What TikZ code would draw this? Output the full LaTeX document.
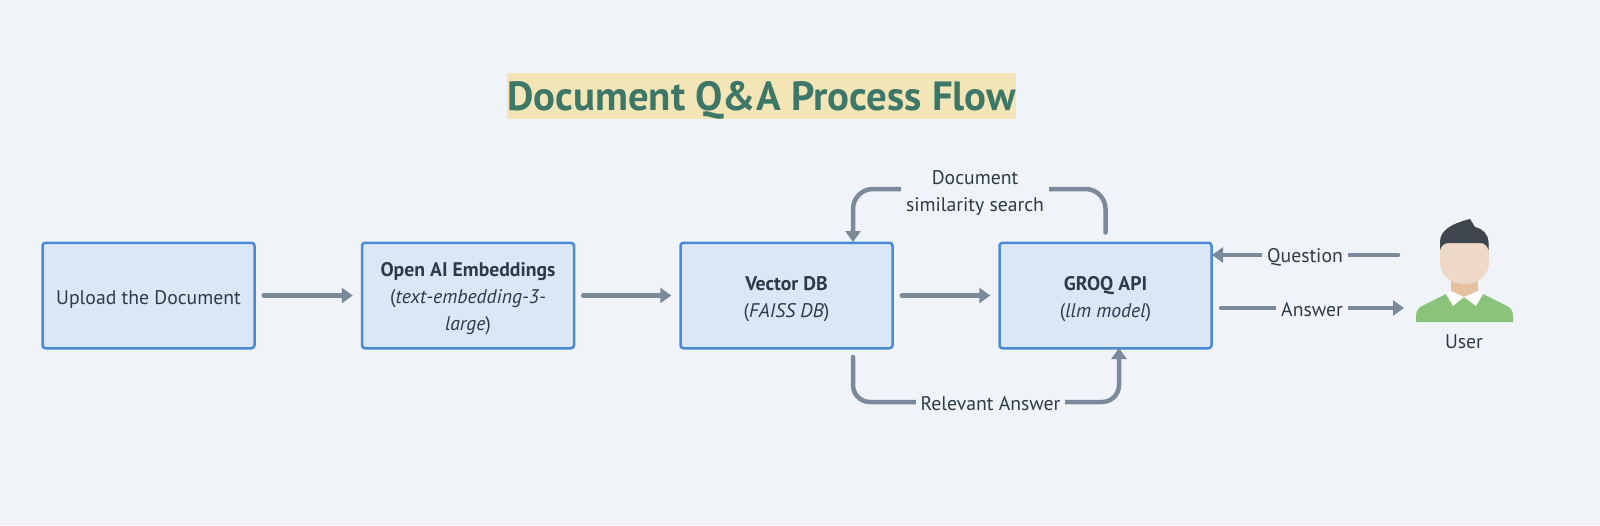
\documentclass[tikz,border=0pt]{standalone}
\usepackage{fontspec}
\setmainfont{PT Sans}
\usetikzlibrary{arrows.meta}
\definecolor{pagebg}{HTML}{F0F4F8}
\definecolor{boxfill}{HTML}{DAE7F6}
\definecolor{boxline}{HTML}{4A8AD4}
\definecolor{inktext}{HTML}{2D3A48}
\definecolor{flowgray}{HTML}{7B8A9A}
\definecolor{titlefill}{HTML}{F3E5B5}
\definecolor{titletext}{HTML}{3D7767}
\definecolor{shirtgreen}{RGB}{138,196,122}
\definecolor{neckskin}{RGB}{228,194,160}
\definecolor{faceskin}{RGB}{238,217,198}
\definecolor{hairdark}{RGB}{62,69,78}
\newcommand{\lowered}{\rule{0pt}{21pt}}
\tikzset{
  stagebox/.style={draw=boxline,fill=boxfill,line width=2.5pt,rounded corners=3pt,
    minimum width=212pt,minimum height=105.5pt,align=center,text=inktext,font=\fontsize{19.7}{27}\selectfont,inner sep=0pt},
  flowline/.style={draw=flowgray,line width=4.5pt,line cap=round,-{Triangle[length=11pt,width=15pt]}},
  flowlabel/.style={fill=pagebg,text=inktext,align=center,font=\fontsize{19.7}{27}\selectfont,inner ysep=0pt,inner xsep=5pt}
}
\begin{document}
\begin{tikzpicture}[x=1pt,y=-1pt]
  \useasboundingbox[fill=pagebg] (0,0) rectangle (1600,525);
  \node[fill=titlefill,text=titletext,font=\fontsize{40.8}{48}\selectfont\bfseries,minimum width=509pt,minimum height=45pt,inner sep=0pt,execute at begin node={\rule{0pt}{38pt}}] (title) at (761.5,96) {Document Q\&A Process Flow};
  \node[stagebox] (upload) at (148.5,295.5) {\lowered Upload the Document};
  \node[stagebox] (embed) at (468,295.5) {\lowered\textbf{Open AI Embeddings}\\(\textit{text-embedding-3-}\\\textit{large})};
  \node[stagebox] (vdb) at (786.5,295.5) {\lowered\textbf{Vector DB}\\(\textit{FAISS DB})};
  \node[stagebox] (groq) at (1105.5,295.5) {\lowered\textbf{GROQ API}\\(\textit{llm model})};
  % person
  \fill[shirtgreen] (1416,322) -- (1416,316) .. controls (1416,310) and (1419,307) .. (1424,305) -- (1446,294) -- (1483,294) -- (1505,305) .. controls (1510,307) and (1513,310) .. (1513,316) -- (1513,322) -- cycle;
  \fill[neckskin] (1451,275) rectangle (1478,298);
  \fill[white] (1446,294) -- (1453,306) -- (1464,297) -- (1476,306) -- (1483,294) -- (1478,291) -- (1464,297) -- (1451,291) -- cycle;
  \fill[faceskin] (1440,243) -- (1489,243) -- (1489,262) .. controls (1489,276) and (1478,284) .. (1464.5,284) .. controls (1451,284) and (1440,276) .. (1440,262) -- cycle;
  \fill[hairdark] (1440,250) -- (1440,242) .. controls (1440,231) and (1450,224) .. (1470,219) -- (1475,227) .. controls (1483,229) and (1488,234) .. (1488.5,242) -- (1488.5,250) .. controls (1487,246) and (1485,243) .. (1480,243) -- (1449,243) .. controls (1444,243) and (1441,246) .. (1440,250) -- cycle;
  \node[text=inktext,font=\fontsize{19.7}{27}\selectfont] (user) at (1464,342) {User};
  \coordinate (qstart) at (1398,255);
  \coordinate (qend) at (1212,255);
  \coordinate (astart) at (1221,308);
  \coordinate (aend) at (1404,308);
  \coordinate (topleft) at (853,189);
  \coordinate (topright) at (1105.5,189);
  \coordinate (lowleft) at (853,402);
  \coordinate (lowright) at (1119,402);
  \coordinate (vdbtop) at (853,242);
  \coordinate (vdbend) at (853,357);
  \coordinate (groqend) at (1119,348);
  \draw[flowline,shorten <=8pt,shorten >=8pt] (upload) -- (embed);
  \draw[flowline,shorten <=8pt,shorten >=8pt] (embed) -- (vdb);
  \draw[flowline,shorten <=8pt,shorten >=8pt] (vdb) -- (groq);
  \draw[flowline,rounded corners=20pt,shorten <=9pt] (groq.north) -- (topright) -- (topleft) -- (vdbtop);
  \draw[flowline,rounded corners=17pt] (vdbend) -- (lowleft) -- (lowright) -- (groqend);
  \draw[flowline] (qstart) -- (qend);
  \draw[flowline] (astart) -- (aend);
  % labels on top of the lines
  \node[flowlabel] (simlabel) at (975,193) {Document\\similarity search};
  \node[flowlabel] (rellabel) at (990.5,404) {Relevant Answer};
  \node[flowlabel] (qlabel) at (1305,257.5) {Question};
  \node[flowlabel] (alabel) at (1312,310) {Answer};
\end{tikzpicture}
\end{document}
